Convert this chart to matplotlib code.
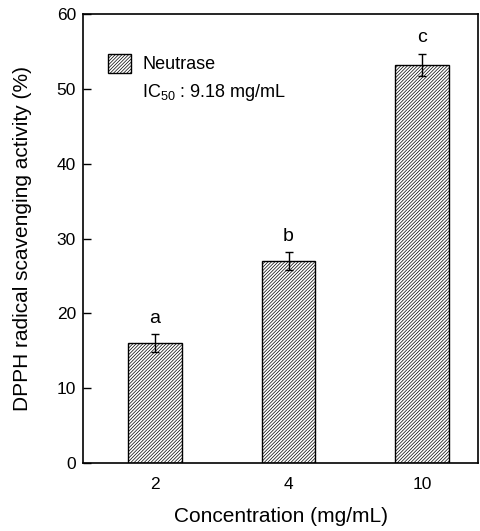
import numpy as np
import matplotlib
matplotlib.use("Agg")
import matplotlib.pyplot as plt

plt.rcParams['font.family'] = ['Liberation Sans', 'DejaVu Sans']
plt.rcParams['hatch.linewidth'] = 0.5

# data
concentrations = ['2', '4', '10']
activity = [16.0, 27.0, 53.2]
errors = [1.2, 1.2, 1.5]
letters = ['a', 'b', 'c']

fig = plt.figure(figsize=(4.81, 5.31), dpi=100)
ax = fig.add_axes([0.1726, 0.128, 0.8212, 0.8456])

x = np.arange(len(concentrations))
ax.bar(x, activity, width=0.40, color='white', edgecolor='black',
       hatch='//////////', linewidth=1.0, label='Neutrase', zorder=2)
ax.errorbar(x, activity, yerr=errors, fmt='none', ecolor='black',
            elinewidth=1.0, capsize=3, capthick=1.0, zorder=3)

for xi, v, err, lt in zip(x, activity, errors, letters):
    ax.text(xi, v + err + 1.0, lt, ha='center', va='bottom', fontsize=14)

ax.set_xlim(-0.54, 2.42)
ax.set_ylim(0, 60)
ax.set_yticks(np.arange(0, 61, 10))
ax.set_xticks(x)
ax.set_xticklabels(concentrations)
ax.tick_params(axis='y', direction='in', length=6, width=1, labelsize=12.5, pad=5)
ax.tick_params(axis='x', length=0, labelsize=12.5, pad=10)
for s in ax.spines.values():
    s.set_linewidth(1.2)

ax.set_xlabel('Concentration (mg/mL)', fontsize=15, labelpad=11)
ax.set_ylabel('DPPH radical scavenging activity (%)', fontsize=15, labelpad=18)

leg = ax.legend(loc='upper left', bbox_to_anchor=(0.045, 0.927), frameon=False,
                fontsize=13, handlelength=1.3, handleheight=1.2, handletextpad=0.6,
                borderaxespad=0)
ax.text(0.149, 0.826, 'IC$_{\\mathregular{50}}$ : 9.18 mg/mL', transform=ax.transAxes,
        fontsize=13, va='center', ha='left')

fig.savefig('out.png', dpi=100)
